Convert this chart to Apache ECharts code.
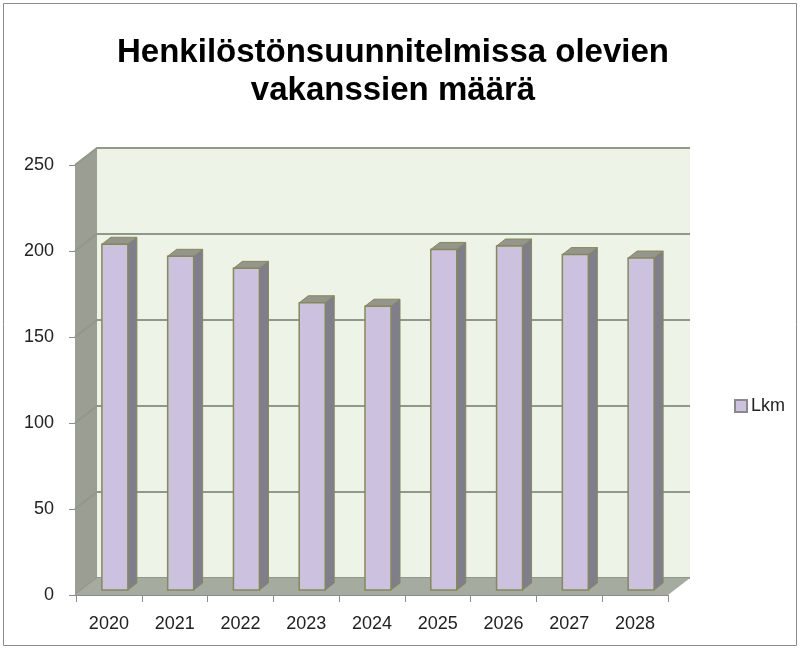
<!DOCTYPE html>
<html><head><meta charset="utf-8">
<script src="https://cdn.jsdelivr.net/npm/echarts@6/dist/echarts.min.js"></script>
<style>html,body{margin:0;padding:0;background:#fff}#c{width:801px;height:649px}</style>
</head><body><div id="c"></div>
<script>
const titleText = 'Henkilöstönsuunnitelmissa olevien\nvakanssien määrä';
const categories = ['2020', '2021', '2022', '2023', '2024', '2025', '2026', '2027', '2028'];
const values = [201, 194, 187, 167, 165, 198, 200, 195, 193];
const yTicks = [0, 50, 100, 150, 200, 250];
const seriesName = 'Lkm';

// 3D look parameters (styling, not data)
const DX = 22, DY = -17;          // wall depth vector
const BDX = 9, BDY = -7;          // bar depth vector
const BAR_L = -7, BAR_R = 19;     // bar front face relative to category centre
const BAR_LIFT = -5;              // bar front plane offset from front plane
const FONT = '"Liberation Sans", Arial, sans-serif';

const chart = echarts.init(document.getElementById('c'), null, {renderer: 'canvas'});

function renderWalls(params, api) {
  const band = api.size([1, 0])[0];
  const p0 = api.coord([0, 0]);
  const pN = api.coord([categories.length - 1, 0]);
  const L = p0[0] - band / 2 - 1, R = pN[0] + band / 2, B = p0[1];
  const T = api.coord([0, yTicks[yTicks.length - 1]])[1];
  const ch = [];
  ch.push({type: 'polygon', shape: {points: [[L + DX, T + DY], [R + DX, T + DY], [R + DX, B + DY], [L + DX, B + DY]]},
           style: {fill: '#eef3e8'}});
  ch.push({type: 'polygon', shape: {points: [[L, B], [L, T], [L + DX, T + DY], [L + DX, B + DY]]},
           style: {fill: '#9a9e93'}});
  yTicks.forEach(v => {
    const y = api.coord([0, v])[1];
    ch.push({type: 'polyline', shape: {points: [[L, y], [L + DX, y + DY], [R + DX, y + DY]]},
             style: {stroke: '#8f998a', lineWidth: 2, fill: null}});
  });
  ch.push({type: 'polygon', shape: {points: [[L, B], [R, B], [R + DX, B + DY], [L + DX, B + DY]]},
           style: {fill: '#a6ab9f'}});
  return {type: 'group', children: ch};
}

function renderBar(params, api) {
  const idx = api.value(0);
  const c = api.coord([idx, api.value(1)]);
  const b = api.coord([idx, 0]);
  const x0 = c[0] + BAR_L, x1 = c[0] + BAR_R;
  const yT = c[1] + BAR_LIFT, yB = b[1] + BAR_LIFT;
  const stroke = '#858a58';
  return {type: 'group', children: [
    {type: 'polygon', shape: {points: [[x1, yB], [x1, yT], [x1 + BDX, yT + BDY], [x1 + BDX, yB + BDY]]},
     style: {fill: '#807e8d', stroke: stroke, lineWidth: 1}},
    {type: 'polygon', shape: {points: [[x0, yT], [x1, yT], [x1 + BDX, yT + BDY], [x0 + BDX, yT + BDY]]},
     style: {fill: '#95958b', stroke: stroke, lineWidth: 1}},
    {type: 'rect', shape: {x: x0, y: yT, width: x1 - x0, height: yB - yT},
     style: {fill: '#ccc1de', stroke: stroke, lineWidth: 1.5}}
  ]};
}

chart.setOption({
  animation: false,
  backgroundColor: '#ffffff',
  title: {
    text: titleText, left: 388, textAlign: 'center', top: 29,
    textStyle: {fontFamily: FONT, fontSize: 33, fontWeight: 'bold', color: '#000', lineHeight: 38}
  },
  legend: {
    data: [{name: seriesName, icon: 'rect'}], left: 734, top: 397, orient: 'vertical', padding: 0,
    itemWidth: 12, itemHeight: 12, itemGap: 4,
    textStyle: {fontFamily: FONT, fontSize: 18, color: '#222', padding: [0, 0, 0, -1]}
  },
  grid: {left: 76, right: 133, top: 165, bottom: 54},
  xAxis: {
    type: 'category', data: categories, boundaryGap: true,
    axisLine: {show: true, lineStyle: {color: '#8c8c8c', width: 1}},
    axisTick: {show: true, length: 7, lineStyle: {color: '#8c8c8c'}},
    axisLabel: {fontFamily: FONT, fontSize: 18, color: '#222', margin: 20},
    splitLine: {show: false}
  },
  yAxis: {
    type: 'value', min: 0, max: 250, interval: 50,
    axisLine: {show: true, lineStyle: {color: '#8c8c8c', width: 1}},
    axisTick: {show: true, length: 7, lineStyle: {color: '#8c8c8c'}},
    axisLabel: {fontFamily: FONT, fontSize: 18, color: '#222', margin: 22},
    splitLine: {show: false}
  },
  graphic: [{type: 'rect', shape: {x: 3.5, y: 3.5, width: 793, height: 642},
             style: {fill: null, stroke: '#8c8c8c', lineWidth: 1}, z: 100, silent: true}],
  series: [
    {type: 'custom', name: 'walls', renderItem: renderWalls, data: [[0, 0]], z: 1, silent: true, clip: false},
    {type: 'custom', name: seriesName, renderItem: renderBar, data: values.map((v, i) => [i, v]),
     encode: {x: 0, y: 1}, z: 3, clip: false,
     itemStyle: {color: '#ccc1de', borderColor: '#8a8a8a', borderWidth: 1}}
  ]
});
</script></body></html>
